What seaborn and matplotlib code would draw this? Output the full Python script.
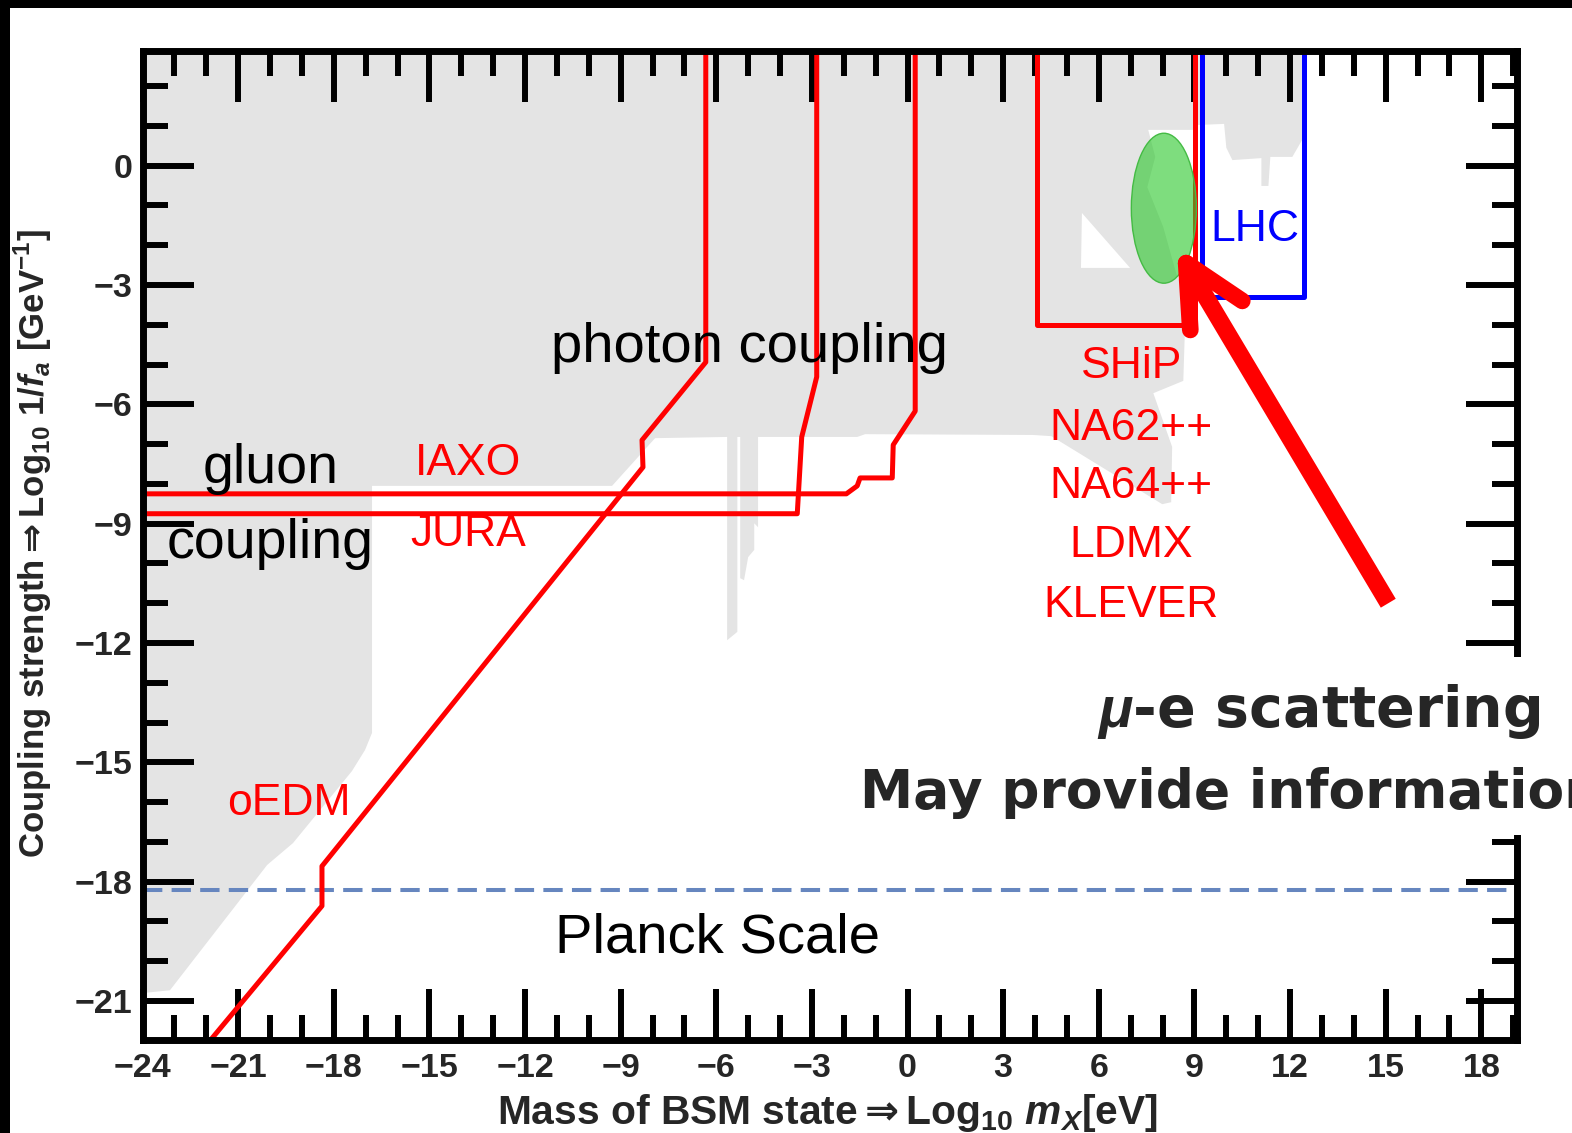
import matplotlib
matplotlib.use("Agg")
import matplotlib.pyplot as plt
from matplotlib.patches import Ellipse, Rectangle
from matplotlib.ticker import MultipleLocator
import seaborn as sns

# ---------------- data (log10 mass [eV], log10 coupling [GeV^-1]) ----------------
excl_x = [-24.0, 12.38, 12.38, 12.07, 11.38, 11.32, 11.10, 11.10, 10.19, 10.00, 9.93, 9.02,
          9.02, 7.55, 7.77, 7.52, 8.02, 8.46, 8.78, 8.71, 8.65, 7.71, 8.30, 8.27, 7.99,
          4.51, 3.94, -1.33, -1.58, -4.69, -4.69, -4.81, -4.81, -5.00, -5.13, -5.25, -5.25,
          -5.34, -5.34, -5.66, -5.66, -7.92, -9.27, -16.80, -16.80, -17.02, -17.43, -19.28,
          -20.09, -23.14, -24.0]
excl_y = [3.2, 3.2, 0.65, 0.22, 0.22, -0.51, -0.51, 0.19, 0.14, 0.45, 1.05, 1.02,
          0.90, 0.90, 0.22, -0.54, -1.54, -2.80, -3.20, -3.88, -5.41, -5.72, -7.07, -8.46, -8.51,
          -6.80, -6.77, -6.75, -6.82, -6.82, -9.09, -8.99, -9.66, -9.84, -10.42, -10.37, -6.82,
          -6.82, -11.72, -11.93, -6.82, -6.85, -8.05, -8.05, -14.26, -14.69, -15.22, -17.03,
          -17.58, -20.73, -20.80]
hole_x = [5.47, 6.98, 5.44]
hole_y = [-1.19, -2.57, -2.57]

oedm_x = [-22.3, -18.37, -18.37, -8.30, -8.33, -6.33, -6.33]
oedm_y = [-22.4, -18.61, -17.61, -7.58, -6.90, -4.94, 3.2]
jura_x = [-24.5, -3.46, -3.32, -2.85, -2.85]
jura_y = [-8.75, -8.75, -6.82, -5.31, 3.2]
iaxo_x = [-24.5, -1.92, -1.58, -1.49, -0.48, -0.45, 0.24, 0.24]
iaxo_y = [-8.25, -8.25, -8.05, -7.85, -7.85, -7.02, -6.17, 3.2]
ship_x = [4.07, 4.07, 9.02, 9.02]
ship_y = [3.2, -4.01, -4.01, 3.2]
lhc_x = [9.24, 9.24, 12.44, 12.44]
lhc_y = [3.2, -3.30, -3.30, 3.2]
planck_y = -18.22

muon_center = (8.04, -1.07)
muon_size = (2.04, 3.77)

arrow_shaft_x = [15.08, 8.80]
arrow_shaft_y = [-11.0, -2.55]
arrow_barb1_x = [8.74, 10.50]
arrow_barb1_y = [-2.45, -3.40]
arrow_barb2_x = [8.74, 8.87]
arrow_barb2_y = [-2.45, -4.13]

exp_labels = ["SHiP", "NA62++", "NA64++", "LDMX", "KLEVER"]
exp_label_y = [-5.34, -6.90, -8.36, -9.84, -11.35]

# ---------------- style ----------------
sns.set_theme(style="white")
plt.rcParams["font.family"] = ["Liberation Sans", "DejaVu Sans"]
plt.rcParams["font.weight"] = "bold"
plt.rcParams["mathtext.fontset"] = "custom"
plt.rcParams["mathtext.default"] = "rm"
plt.rcParams["mathtext.rm"] = "DejaVu Sans:bold"
plt.rcParams["mathtext.bf"] = "DejaVu Sans:bold"
plt.rcParams["mathtext.sf"] = "Liberation Sans:bold"
plt.rcParams["mathtext.it"] = "Liberation Sans:italic:bold"
plt.rcParams["mathtext.fallback"] = "stixsans"

fig = plt.figure(figsize=(15.72, 11.33), dpi=100)
ax = fig.add_axes([0.09065, 0.08208, 0.8744, 0.87247])
ax.set_facecolor("white")

GRAY = "#e4e4e4"
ax.fill(excl_x, excl_y, color=GRAY, lw=0, zorder=0.5)
ax.fill(hole_x, hole_y, color="white", lw=0, zorder=0.6)

lw_red = 3.6
for xs, ys in [(oedm_x, oedm_y), (jura_x, jura_y), (iaxo_x, iaxo_y), (ship_x, ship_y)]:
    sns.lineplot(x=xs, y=ys, sort=False, estimator=None, color="#ff0000", lw=lw_red, ax=ax, zorder=3)
sns.lineplot(x=lhc_x, y=lhc_y, sort=False, estimator=None, color="#0000ff", lw=lw_red, ax=ax, zorder=3)

ax.axhline(planck_y, color="#6686bf", lw=2.9, ls=(0, (4.8, 2.3)), zorder=2)

ell = Ellipse(muon_center, muon_size[0], muon_size[1], facecolor=(0.16, 0.78, 0.16, 0.6),
              edgecolor="#44bb44", lw=1.0, zorder=4)
ax.add_patch(ell)

ax.plot(arrow_shaft_x, arrow_shaft_y, color="#ff0000", lw=12.5, solid_capstyle="butt", zorder=6)
for xs, ys in [(arrow_barb1_x, arrow_barb1_y), (arrow_barb2_x, arrow_barb2_y)]:
    ax.plot(xs, ys, color="#ff0000", lw=12, solid_capstyle="round", zorder=6)

# ---------------- texts ----------------
tk = dict(fontweight="normal", ha="center", va="baseline", zorder=7)
ax.text(-19.99, -7.98, "gluon", fontsize=40, color="black", **tk)
ax.text(-19.99, -9.86, "coupling", fontsize=40, color="black", **tk)
ax.text(-4.95, -4.94, "photon coupling", fontsize=40.5, color="black", **tk)
ax.text(-5.97, -19.78, "Planck Scale", fontsize=40.5, color="black", **tk)
ax.text(-13.78, -7.78, "IAXO", fontsize=32, color="#ff0000", **tk)
ax.text(-13.78, -9.55, "JURA", fontsize=32, color="#ff0000", **tk)
ax.text(-19.40, -16.33, "oEDM", fontsize=32, color="#ff0000", **tk)
for lab, yy in zip(exp_labels, exp_label_y):
    ax.text(7.02, yy, lab, fontsize=32, color="#ff0000", **tk)
ax.text(10.88, -1.90, "LHC", fontsize=32, color="#0000ff", **tk)

# ---------------- axes ----------------
ax.set_xlim(-24, 19.12)
ax.set_ylim(-21.98, 2.87)
ax.xaxis.set_major_locator(MultipleLocator(3))
ax.xaxis.set_minor_locator(MultipleLocator(1))
ax.yaxis.set_major_locator(MultipleLocator(3))
ax.yaxis.set_minor_locator(MultipleLocator(1))
ax.tick_params(which="both", direction="in", top=True, right=True, bottom=True, left=True,
               width=4.3, color="black", labelsize=24.5)
ax.tick_params(axis="x", pad=9)
ax.tick_params(axis="y", pad=7)
ax.tick_params(which="major", length=37)
ax.tick_params(which="minor", length=18)
for sp in ax.spines.values():
    sp.set_linewidth(5)
    sp.set_color("black")
    sp.set_zorder(8)

ax.set_ylabel(r"Coupling strength$\Rightarrow$Log$_{\mathsf{10}}$ 1/$\mathit{f}_{\mathit{a}}$ [GeV$^{\mathsf{-1}}$]",
              fontsize=25, fontweight="bold", va="center")
ax.yaxis.set_label_coords(-0.0795, 0.502)
ax.set_xlabel(r"Mass of BSM state$\Rightarrow$Log$_{\mathsf{10}}$ $\mathit{m}_{\mathit{X}}$[eV]",
              fontsize=29.3, fontweight="bold", va="center")
ax.xaxis.set_label_coords(0.4985, -0.0735)

# ---------------- figure decorations ----------------
fig.add_artist(Rectangle((850 / 1572, 1 - 835 / 1133), 1, (835 - 657) / 1133,
                         transform=fig.transFigure, facecolor="white", edgecolor="none", zorder=5))
fig.text(1540 / 1572, 1 - 727 / 1133, r"$\mathit{\mu}$-e scattering", fontsize=41, ha="right",
         va="baseline", family=["DejaVu Sans"], fontweight="bold", zorder=6)
fig.text(860 / 1572, 1 - 808 / 1133, "May provide information", fontsize=38.5, ha="left",
         va="baseline", family=["DejaVu Sans"], fontweight="bold", zorder=6)
fig.add_artist(Rectangle((0, 1 - 8 / 1133), 1, 8 / 1133, transform=fig.transFigure,
                         facecolor="black", edgecolor="none", zorder=10))
fig.add_artist(Rectangle((0, 0), 10 / 1572, 1, transform=fig.transFigure,
                         facecolor="black", edgecolor="none", zorder=10))

fig.savefig("out.png", dpi=100)
